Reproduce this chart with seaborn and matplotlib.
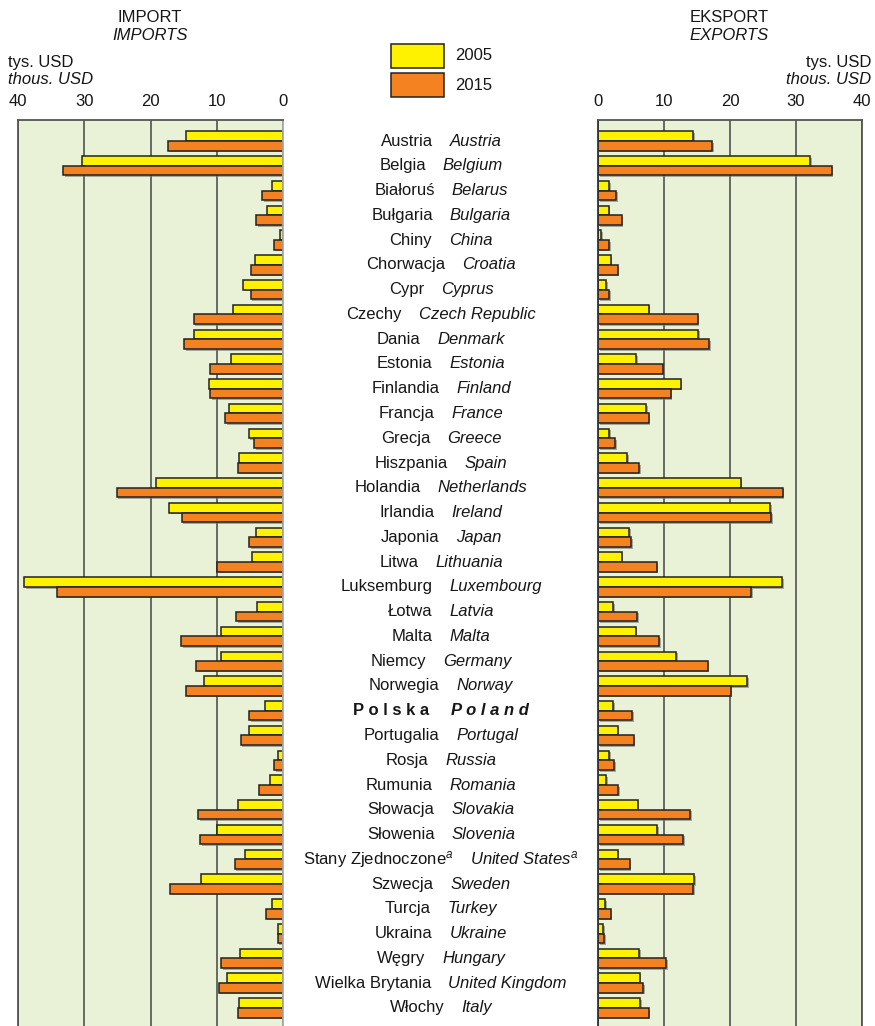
import numpy as np
import pandas as pd
import matplotlib
matplotlib.use("Agg")
import matplotlib.pyplot as plt
import matplotlib.patheffects as pe
from matplotlib.transforms import blended_transform_factory
from matplotlib.offsetbox import TextArea, HPacker, AnnotationBbox
import seaborn as sns

# dane
countries_pl = ["Austria", "Belgia", "Białoruś", "Bułgaria", "Chiny", "Chorwacja", "Cypr",
                "Czechy", "Dania", "Estonia", "Finlandia", "Francja", "Grecja", "Hiszpania",
                "Holandia", "Irlandia", "Japonia", "Litwa", "Luksemburg", "Łotwa", "Malta",
                "Niemcy", "Norwegia", "Polska", "Portugalia", "Rosja", "Rumunia", "Słowacja",
                "Słowenia", "Stany Zjednoczone", "Szwecja", "Turcja", "Ukraina", "Węgry",
                "Wielka Brytania", "Włochy"]
countries_en = ["Austria", "Belgium", "Belarus", "Bulgaria", "China", "Croatia", "Cyprus",
                "Czech Republic", "Denmark", "Estonia", "Finland", "France", "Greece", "Spain",
                "Netherlands", "Ireland", "Japan", "Lithuania", "Luxembourg", "Latvia", "Malta",
                "Germany", "Norway", "Poland", "Portugal", "Russia", "Romania", "Slovakia",
                "Slovenia", "United States", "Sweden", "Turkey", "Ukraine", "Hungary",
                "United Kingdom", "Italy"]

imp_2005 = [14.6, 30.3, 1.7, 2.4, 0.5, 4.3, 6.0, 7.5, 13.5, 7.8, 11.2, 8.1, 5.2, 6.6,
            19.1, 17.2, 4.1, 4.7, 39.1, 3.9, 9.3, 9.4, 12.0, 2.7, 5.1, 0.8, 1.9, 6.8,
            9.9, 5.8, 12.4, 1.7, 0.8, 6.5, 8.5, 6.6]
imp_2015 = [17.3, 33.2, 3.1, 4.1, 1.3, 4.9, 4.9, 13.5, 14.9, 11.0, 11.0, 8.7, 4.4, 6.8,
            25.1, 15.3, 5.1, 9.9, 34.1, 7.1, 15.4, 13.1, 14.6, 5.1, 6.4, 1.3, 3.6, 12.8,
            12.5, 7.3, 17.0, 2.6, 0.8, 9.3, 9.7, 6.8]
exp_2005 = [14.4, 32.1, 1.7, 1.6, 0.5, 1.9, 1.2, 7.7, 15.2, 5.8, 12.5, 7.3, 1.7, 4.4,
            21.6, 26.1, 4.7, 3.6, 27.9, 2.3, 5.7, 11.8, 22.6, 2.3, 3.0, 1.7, 1.2, 6.0,
            9.0, 3.0, 14.6, 1.1, 0.8, 6.2, 6.3, 6.4]
exp_2015 = [17.3, 35.4, 2.8, 3.6, 1.7, 3.0, 1.7, 15.1, 16.8, 9.9, 11.0, 7.7, 2.6, 6.2,
            28.0, 26.2, 5.0, 8.9, 23.2, 5.9, 9.3, 16.6, 20.1, 5.2, 5.4, 2.4, 3.1, 14.0,
            12.9, 4.8, 14.4, 1.9, 0.9, 10.3, 6.8, 7.7]

years = ["2005", "2015"]
colors = {"2005": "#FFF200", "2015": "#F58220"}
ticks = [0, 10, 20, 30, 40]

df = pd.DataFrame({
    "country": countries_pl * 2,
    "year": ["2005"] * len(countries_pl) + ["2015"] * len(countries_pl),
    "imp": imp_2005 + imp_2015,
    "exp": exp_2005 + exp_2015,
})

sns.set_theme(style="white")
plt.rcParams["font.family"] = ["Liberation Sans", "DejaVu Sans"]
plt.rcParams["mathtext.fontset"] = "custom"
plt.rcParams["mathtext.it"] = "Liberation Sans:italic"
plt.rcParams["mathtext.rm"] = "Liberation Sans"
plt.rcParams["text.color"] = "#161616"

W, H = 875, 1026
fig = plt.figure(figsize=(W / 100, H / 100), dpi=100)
ax_imp = fig.add_axes([18 / W, 0, 265 / W, (H - 120) / H])
ax_exp = fig.add_axes([598 / W, 0, 264 / W, (H - 120) / H])

n = len(countries_pl)
shadow = [pe.SimplePatchShadow(offset=(1.2, -1.2), shadow_rgbFace="#777777", alpha=0.6), pe.Normal()]

for ax, col in [(ax_imp, "imp"), (ax_exp, "exp")]:
    sns.barplot(data=df, y="country", x=col, hue="year", hue_order=years, order=countries_pl,
                orient="h", palette=colors, saturation=1, edgecolor="#222222", linewidth=1.1,
                width=0.78, legend=False, ax=ax)
    for p in ax.patches:
        p.set_path_effects(shadow)
    ax.set_facecolor("#E9F1D6")
    ax.set_ylim(n - 1 + 0.73, -0.85)
    ax.set_yticks([])
    ax.set_xlabel("")
    ax.set_ylabel("")
    ax.xaxis.tick_top()
    ax.set_xticks(ticks)
    ax.tick_params(axis="x", length=0, pad=8, labelsize=12, colors="#161616")
    ax.grid(axis="x", color="#444444", lw=1.1)
    ax.set_axisbelow(True)
    ax.spines["bottom"].set_visible(False)
    for s in ["top", "left", "right"]:
        ax.spines[s].set_color("#555555")
        ax.spines[s].set_linewidth(1.3)

ax_imp.set_xlim(40, 0)
ax_exp.set_xlim(0, 40)
ax_imp.spines["right"].set_color("#aaaaaa")
ax_exp.spines["left"].set_color("#333333")

# naglowki
fs = 12
fig.text(150 / W, 1 - 18 / H, "IMPORT", ha="center", va="center", fontsize=fs)
fig.text(150 / W, 1 - 35 / H, "IMPORTS", ha="center", va="center", fontsize=fs, style="italic")
fig.text(8 / W, 1 - 63 / H, "tys. USD", ha="left", va="center", fontsize=fs)
fig.text(8 / W, 1 - 80 / H, "thous. USD", ha="left", va="center", fontsize=fs, style="italic")
fig.text(729 / W, 1 - 18 / H, "EKSPORT", ha="center", va="center", fontsize=fs)
fig.text(729 / W, 1 - 35 / H, "EXPORTS", ha="center", va="center", fontsize=fs, style="italic")
fig.text(871 / W, 1 - 63 / H, "tys. USD", ha="right", va="center", fontsize=fs)
fig.text(871 / W, 1 - 80 / H, "thous. USD", ha="right", va="center", fontsize=fs, style="italic")

# legenda (prostokaty w pikselach figury)
for k, y in enumerate(years):
    top = 44 + k * 29
    fig.add_artist(plt.Rectangle((391 / W, 1 - (top + 24) / H), 53 / W, 24 / H,
                                 transform=fig.transFigure, facecolor=colors[y],
                                 edgecolor="#222222", lw=1.1))
    fig.text(455 / W, 1 - (top + 12) / H, y, ha="left", va="center", fontsize=fs)

# etykiety krajow
trans = blended_transform_factory(fig.transFigure, ax_imp.transData)
for i, (pl, en) in enumerate(zip(countries_pl, countries_en)):
    if pl == "Polska":
        parts = [TextArea(" ".join(pl), textprops=dict(fontsize=fs, fontweight="bold")),
                 TextArea(" ".join(en), textprops=dict(fontsize=fs, fontweight="bold", style="italic"))]
        sep = 16
    elif pl == "Stany Zjednoczone":
        parts = [TextArea(pl + r"$^{a}$", textprops=dict(fontsize=fs)),
                 TextArea(r"$\mathit{United\ States}^{a}$", textprops=dict(fontsize=fs))]
        sep = 12
    else:
        parts = [TextArea(pl, textprops=dict(fontsize=fs)),
                 TextArea(en, textprops=dict(fontsize=fs, style="italic"))]
        sep = 12
    box = HPacker(children=parts, align="baseline", pad=0, sep=sep)
    ab = AnnotationBbox(box, (441 / W, i), xycoords=trans, frameon=False,
                        box_alignment=(0.5, 0.5), pad=0, annotation_clip=False)
    fig.add_artist(ab)

fig.savefig("out.png", dpi=100)
